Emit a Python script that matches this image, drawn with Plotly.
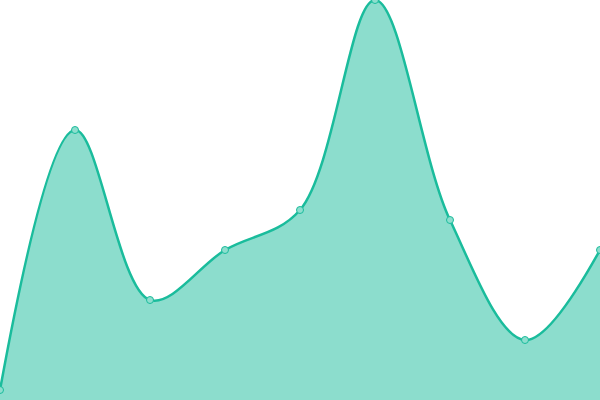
import plotly.graph_objects as go

# chart data
x_vals = [0, 1, 2, 3, 4, 5, 6, 7, 8]
y_vals = [10, 270, 100, 150, 190, 400, 180, 60, 150]

area = go.Scatter(
    x=x_vals,
    y=y_vals,
    mode='lines+markers',
    fill='tozeroy',
    fillcolor='rgba(26,188,156,0.5)',
    line=dict(color='#1abc9c', width=2.5, shape='spline', smoothing=1.0),
    marker=dict(size=7, color='#8ddece', line=dict(color='#1abc9c', width=1)),
    hoverinfo='skip',
)

layout = go.Layout(
    width=600, height=400,
    margin=dict(l=0, r=0, t=0, b=0),
    paper_bgcolor='white', plot_bgcolor='white',
    showlegend=False,
    xaxis=dict(visible=False, range=[0, 8], fixedrange=True),
    yaxis=dict(visible=False, range=[0, 400], fixedrange=True),
)

fig = go.Figure(data=[area], layout=layout)
fig.update_traces(cliponaxis=False)
# drop the page's default body margin so the chart sits at the window corner
fig.write_html("out.html", config={'displayModeBar': False},
               post_script="document.body.style.margin='0';")
